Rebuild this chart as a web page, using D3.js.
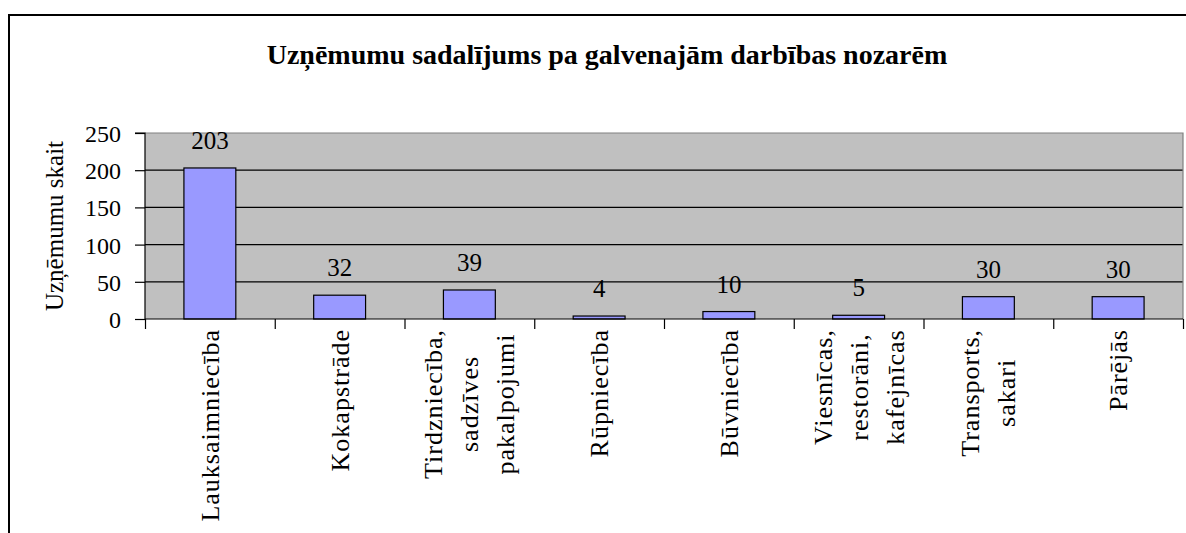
<!DOCTYPE html>
<html>
<head>
<meta charset="utf-8">
<script src="https://cdn.jsdelivr.net/npm/d3@7"></script>
<style>
  body { margin: 0; background: #fff; }
</style>
</head>
<body>
<div id="chart"></div>
<script>
// data
var categories = ["Lauksaimniecība", "Kokapstrāde", "Tirdzniecība, sadzīves pakalpojumi",
                  "Rūpniecība", "Būvniecība", "Viesnīcas, restorāni, kafejnīcas",
                  "Transports, sakari", "Pārējās"];
var categoryLines = [["Lauksaimniecība"], ["Kokapstrāde"], ["Tirdzniecība,", "sadzīves", "pakalpojumi"],
                     ["Rūpniecība"], ["Būvniecība"], ["Viesnīcas,", "restorāni,", "kafejnīcas"],
                     ["Transports,", "sakari"], ["Pārējās"]];
var values = [203, 32, 39, 4, 10, 5, 30, 30];
var yTicks = [0, 50, 100, 150, 200, 250];
var title = "Uzņēmumu sadalījums pa galvenajām darbības nozarēm";
var yTitle = "Uzņēmumu skait";

var W = 1186, H = 533;
var plot = {left: 145, right: 1183, top: 133, bottom: 319};
var FONT = "'Liberation Serif', 'Times New Roman', serif";

var svg = d3.select("#chart").append("svg")
    .attr("width", W)
    .attr("height", H)
    .style("font-family", FONT);

// outer frame
svg.append("rect")
    .attr("x", 9).attr("y", 15)
    .attr("width", 1200).attr("height", 600)
    .attr("fill", "#fff")
    .attr("stroke", "#000")
    .attr("stroke-width", 2);

var x = d3.scaleBand().domain(categories).range([plot.left, plot.right]).padding(0);
var xEdges = d3.scaleLinear().domain([0, categories.length]).range([plot.left, plot.right]);
var y = d3.scaleLinear().domain([0, 250]).range([plot.bottom, plot.top]);

// plot background
svg.append("rect")
    .attr("x", plot.left).attr("y", plot.top)
    .attr("width", plot.right - plot.left)
    .attr("height", plot.bottom - plot.top)
    .attr("fill", "#c0c0c0");

// gridlines
svg.selectAll(".grid")
    .data(yTicks.filter(function (d) { return d > 0 && d < 250; }))
    .enter().append("line")
    .attr("x1", plot.left).attr("x2", plot.right)
    .attr("y1", function (d) { return y(d); })
    .attr("y2", function (d) { return y(d); })
    .attr("stroke", "#000")
    .attr("stroke-width", 1.2);

// plot border top/right
svg.append("path")
    .attr("d", "M" + plot.left + "," + y(250) + "H" + plot.right + "V" + plot.bottom)
    .attr("fill", "none")
    .attr("stroke", "#808080")
    .attr("stroke-width", 1.2);

// bars
var bw = x.bandwidth() / 2.5;
svg.selectAll(".bar")
    .data(values)
    .enter().append("rect")
    .attr("x", function (d, i) { return x(categories[i]) + (x.bandwidth() - bw) / 2; })
    .attr("y", function (d) { return y(d); })
    .attr("width", bw)
    .attr("height", function (d) { return y(0) - y(d); })
    .attr("fill", "#9999ff")
    .attr("stroke", "#000")
    .attr("stroke-width", 1.2);

// value labels
svg.selectAll(".val")
    .data(values)
    .enter().append("text")
    .attr("x", function (d, i) { return x(categories[i]) + x.bandwidth() / 2; })
    .attr("y", function (d) { return y(d) - 19; })
    .attr("text-anchor", "middle")
    .style("font-size", "25px")
    .text(function (d) { return d; });

// y axis
var yAxis = svg.append("g")
    .attr("transform", "translate(" + plot.left + ",0)")
    .call(d3.axisLeft(y).tickValues(yTicks).tickSize(10).tickPadding(14));
yAxis.attr("font-family", FONT);
yAxis.select(".domain").attr("stroke", "#000").attr("stroke-width", 1.2).attr("d", "M-10," + y(250) + "H0V" + y(0));
yAxis.selectAll(".tick line").attr("stroke", "#000").attr("stroke-width", 1.2);
yAxis.selectAll(".tick text")
    .style("font-size", "24px")
    .attr("dy", "0.35em");

// x axis
var xAxis = svg.append("g")
    .attr("transform", "translate(0," + plot.bottom + ")")
    .call(d3.axisBottom(xEdges).tickValues(d3.range(0, categories.length + 1)).tickSize(10).tickFormat(""));
xAxis.select(".domain").attr("stroke", "#000").attr("stroke-width", 1.2).attr("d", "M" + plot.left + ",0H" + plot.right);
xAxis.selectAll(".tick line").attr("stroke", "#000").attr("stroke-width", 1.2);

// category labels (rotated, lines centred on each other)
var lineGap = 36, labelTop = 329;
categoryLines.forEach(function (lines, i) {
    var cx = x(categories[i]) + x.bandwidth() / 2;
    var g = svg.append("g");
    var texts = lines.map(function (t) {
        return g.append("text")
            .style("font-size", "26px")
            .style("letter-spacing", "1px")
            .attr("text-anchor", "middle")
            .attr("dy", "0.35em")
            .text(t);
    });
    var maxLen = d3.max(texts, function (t) { return t.node().getComputedTextLength(); });
    texts.forEach(function (t, j) {
        var lx = cx + (j - (lines.length - 1) / 2) * lineGap;
        var ly = labelTop + maxLen / 2;
        t.attr("transform", "translate(" + lx + "," + ly + ") rotate(-90)");
    });
});

// y title
svg.append("text")
    .attr("transform", "translate(54," + (plot.top + plot.bottom) / 2 + ") rotate(-90)")
    .attr("text-anchor", "middle")
    .attr("dy", "0.35em")
    .style("font-size", "25px")
    .text(yTitle);

// title
svg.append("text")
    .attr("x", 607)
    .attr("y", 64)
    .attr("text-anchor", "middle")
    .style("font-size", "28px")
    .style("font-weight", "bold")
    .text(title);
</script>
</body>
</html>
